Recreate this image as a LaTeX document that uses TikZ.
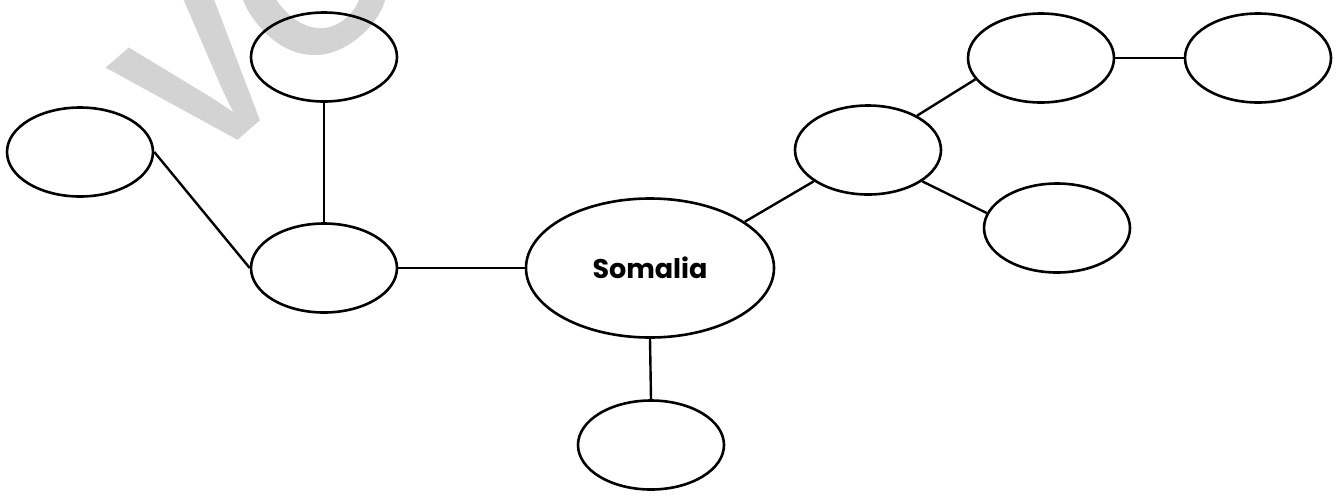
\documentclass[tikz,border=0pt]{standalone}
\usepackage{fontspec}
\usetikzlibrary{shapes.geometric}
\newfontfamily\wmfont{Liberation Sans}
\newfontfamily\labfont{Poppins}
\definecolor{wmgray}{RGB}{211,211,211}
\tikzset{
  bubble/.style={ellipse, draw=black, line width=2.6pt, minimum width=146pt, minimum height=89pt, inner sep=0pt},
  link/.style={draw=black, line width=2.4pt}
}
\begin{document}
\begin{tikzpicture}[x=1pt,y=-1pt]
\useasboundingbox (0,0) rectangle (1338,496);
\begin{scope}
\clip (0,0) rectangle (1338,496);
\node[rotate=41, anchor=base west, inner sep=0pt, text=wmgray, font=\wmfont\bfseries\fontsize{205}{205}\selectfont] (wm) at (197,176) {VO};
\end{scope}
\node[bubble] (e1) at (80,152) {};
\node[bubble] (e2) at (324,57) {};
\node[bubble] (e3) at (324,268) {};
\node[bubble, minimum width=248pt, minimum height=139pt, font=\labfont\bfseries\fontsize{27}{27}\selectfont] (e4) at (650,268) {Somalia};
\node[bubble] (e5) at (651,445) {};
\node[bubble] (e6) at (868,150) {};
\node[bubble] (e7) at (1041,58) {};
\node[bubble] (e8) at (1258,58) {};
\node[bubble] (e9) at (1057,228) {};
\draw[link] (e1.east) -- (e3.west);
\draw[link] (e2.south) -- (e3.north);
\draw[link] (e3.east) -- (e4.west);
\draw[link] (e4.south) -- (e5.north);
\draw[link] (e4.26) -- (e6.210);
\draw[link] (e6.35) -- (e7.198);
\draw[link] (e7.east) -- (e8.west);
\draw[link] (e6.-30) -- (e9.168);
\end{tikzpicture}
\end{document}
